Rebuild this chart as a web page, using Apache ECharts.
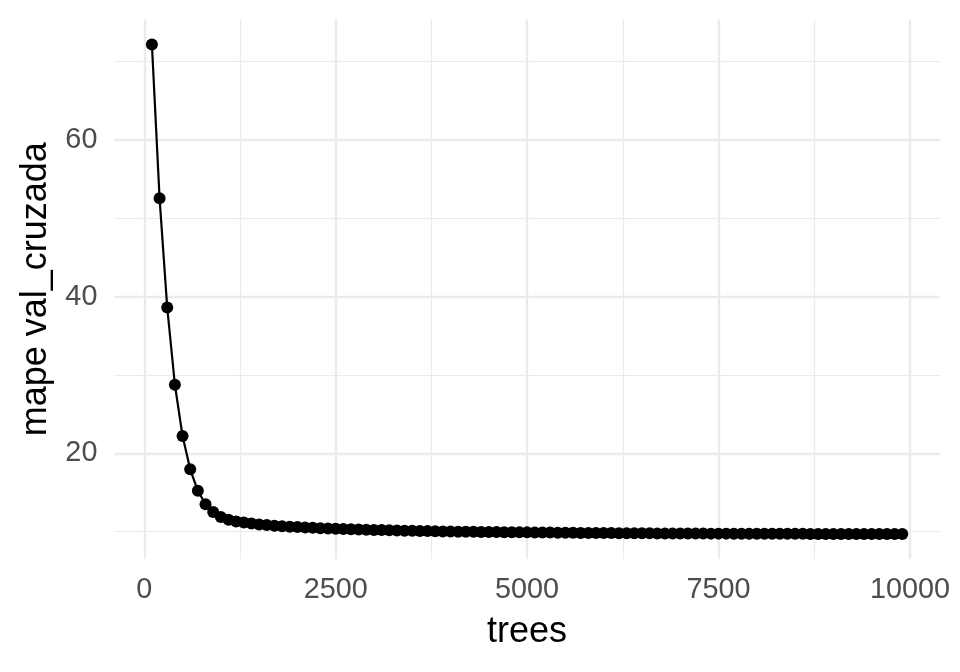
<!DOCTYPE html>
<html>
<head>
<meta charset="utf-8">
<script src="https://cdn.jsdelivr.net/npm/echarts@6/dist/echarts.min.js"></script>
<style>
html,body{margin:0;padding:0;background:#fff;}
#chart{width:960px;height:672px;}
</style>
</head>
<body>
<div id="chart"></div>
<script>
const trees = [100,200,300,400,500,600,700,800,900,1000,1100,1200,1300,1400,1500,1600,1700,1800,1900,2000,
2100,2200,2300,2400,2500,2600,2700,2800,2900,3000,3100,3200,3300,3400,3500,3600,3700,3800,3900,4000,
4100,4200,4300,4400,4500,4600,4700,4800,4900,5000,5100,5200,5300,5400,5500,5600,5700,5800,5900,6000,
6100,6200,6300,6400,6500,6600,6700,6800,6900,7000,7100,7200,7300,7400,7500,7600,7700,7800,7900,8000,
8100,8200,8300,8400,8500,8600,8700,8800,8900,9000,9100,9200,9300,9400,9500,9600,9700,9800,9900];
const mape = [72.2,52.55,38.6,28.75,22.2,17.95,15.2,13.5,12.5,11.85,11.5,11.3,11.15,11.02,10.92,10.83,10.76,10.69,10.63,10.58,
10.53,10.48,10.44,10.40,10.36,10.33,10.30,10.27,10.24,10.21,10.19,10.16,10.14,10.12,10.10,10.08,10.06,10.04,10.02,10.00,
9.99,9.98,9.97,9.96,9.95,9.94,9.93,9.92,9.91,9.90,9.89,9.88,9.87,9.86,9.85,9.84,9.83,9.83,9.82,9.81,
9.81,9.80,9.79,9.79,9.78,9.78,9.77,9.77,9.76,9.76,9.75,9.75,9.75,9.74,9.74,9.74,9.73,9.73,9.73,9.72,
9.72,9.72,9.71,9.71,9.71,9.71,9.70,9.70,9.70,9.70,9.69,9.69,9.69,9.69,9.68,9.68,9.68,9.68,9.68];
const xMajor = [0,2500,5000,7500,10000];
const xMinor = [1250,3750,6250,8750];
const yMajor = [20,40,60];
const yMinor = [10,30,50,70];

const FONT = '"Liberation Sans", Arial, sans-serif';
const gridCol = '#EBEBEB';
function ml(vals, key, w){
  return vals.map(v => ({[key]: v, lineStyle:{width:w, color:gridCol, type:'solid'}}));
}
const chart = echarts.init(document.getElementById('chart'), null, {renderer:'canvas'});
chart.setOption({
  animation:false,
  backgroundColor:'#ffffff',
  grid:{left:114.4, right:20.2, top:19.4, bottom:113, containLabel:false},
  xAxis:{
    type:'value', min:-390, max:10390,
    axisLine:{show:false}, axisTick:{show:false}, splitLine:{show:false},
    axisLabel:{customValues:xMajor, formatter:v=>String(v), color:'#4D4D4D', fontSize:28.8, fontFamily:FONT, margin:17},
    name:'trees', nameLocation:'middle', nameGap:55,
    nameTextStyle:{color:'#000', fontSize:36, fontFamily:FONT}
  },
  yAxis:{
    type:'value', min:6.5, max:75.4,
    axisLine:{show:false}, axisTick:{show:false}, splitLine:{show:false},
    axisLabel:{customValues:yMajor, formatter:v=>String(v), color:'#4D4D4D', fontSize:28.8, fontFamily:FONT, margin:17},
    name:'mape val_cruzada', nameLocation:'middle', nameGap:60,
    nameTextStyle:{color:'#000', fontSize:36, fontFamily:FONT}
  },
  series:[
    {
      type:'line', data:[], silent:true, z:1,
      markLine:{
        silent:true, symbol:['none','none'], label:{show:false}, animation:false,
        emphasis:{disabled:true},
        data:[].concat(ml(xMinor,'xAxis',1.2), ml(yMinor,'yAxis',1.2), ml(xMajor,'xAxis',2.4), ml(yMajor,'yAxis',2.4))
      }
    },
    {
      type:'line', z:5,
      data: trees.map((t,i)=>[t, mape[i]]),
      symbol:'circle', symbolSize:12, showSymbol:true,
      lineStyle:{color:'#000', width:2.2},
      itemStyle:{color:'#000', borderWidth:0},
      emphasis:{disabled:true}
    }
  ]
});
</script>
</body>
</html>
